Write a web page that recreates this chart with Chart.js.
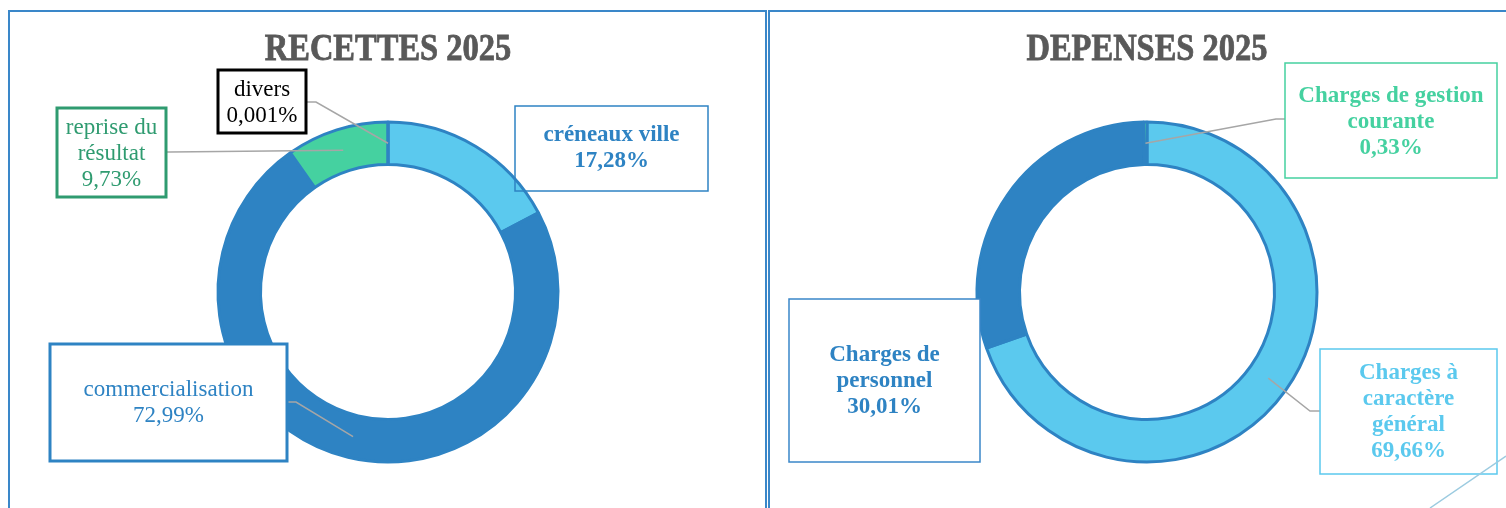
<!DOCTYPE html>
<html>
<head>
<meta charset="utf-8">
<script src="https://cdn.jsdelivr.net/npm/chart.js@4.4.0/dist/chart.umd.min.js"></script>
<style>
  body { margin: 0; background: #fff; width: 1506px; height: 508px; overflow: hidden; position: relative; }
  .panel { position: absolute; top: 10px; height: 520px; border: 2px solid #3a87c9; box-sizing: border-box; }
  #panelLeft { left: 8px; width: 759px; }
  #panelRight { left: 768px; width: 760px; }
  canvas { position: absolute; top: 0; }
  #recettesChart { left: 0; }
  #depensesChart { left: 766px; }
</style>
</head>
<body>
<div class="panel" id="panelLeft"></div>
<div class="panel" id="panelRight"></div>
<canvas id="recettesChart" width="766" height="508"></canvas>
<canvas id="depensesChart" width="740" height="508"></canvas>

<script>
/* data */
const recettesLabels = ["créneaux ville", "commercialisation", "reprise du résultat", "divers"];
const recettesValues = [17.28, 72.99, 9.73, 0.001];
const recettesColors = ["#5bc9ee", "#2e83c3", "#45d1a0", "#2e83c3"];

const depensesLabels = ["Charges à caractère général", "Charges de personnel", "Charges de gestion courante"];
const depensesValues = [69.66, 30.01, 0.33];
const depensesColors = ["#5bc9ee", "#2e83c3", "#45d1a0"];

const SERIF = '"Liberation Serif", "Times New Roman", serif';

function pct(v) {
  return String(v).replace(".", ",") + "%";
}

/* title drawn a bit condensed like the original */
const condensedTitle = {
  id: "condensedTitle",
  afterDraw(chart, args, opts) {
    const ctx = chart.ctx;
    const cx = (chart.chartArea.left + chart.chartArea.right) / 2;
    ctx.save();
    ctx.font = "bold 38px " + SERIF;
    ctx.fillStyle = "#595959";
    ctx.strokeStyle = "#595959";
    ctx.lineWidth = 0.8;
    ctx.textAlign = "center";
    ctx.textBaseline = "alphabetic";
    ctx.translate(cx, 60);
    ctx.scale(0.855, 1);
    ctx.fillText(opts.text, 0, 0);
    ctx.strokeText(opts.text, 0, 0);
    ctx.restore();
  }
};

/* boxed labels with grey leader lines */
const boxLabels = {
  id: "boxLabels",
  afterDraw(chart, args, opts) {
    const ctx = chart.ctx;
    const arcs = chart.getDatasetMeta(0).data;
    const values = chart.data.datasets[0].data;

    // leaders first
    opts.boxes.forEach(b => {
      if (!b.elbow) return;
      const p = arcs[b.index].getCenterPoint();
      ctx.save();
      ctx.strokeStyle = "#a6a6a6";
      ctx.lineWidth = 1.5;
      ctx.beginPath();
      ctx.moveTo(b.start[0], b.start[1]);
      ctx.lineTo(b.elbow[0], b.elbow[1]);
      ctx.lineTo(p.x, p.y);
      ctx.stroke();
      ctx.restore();
    });

    opts.boxes.forEach(b => {
      ctx.save();
      if (b.fill) {
        ctx.fillStyle = "#fff";
        ctx.fillRect(b.x, b.y, b.w, b.h);
      }
      ctx.strokeStyle = b.border;
      ctx.lineWidth = b.lineWidth;
      ctx.strokeRect(b.x, b.y, b.w, b.h);

      const lines = b.lines.concat([pct(values[b.index])]);
      ctx.font = (b.bold ? "bold " : "") + "23px " + SERIF;
      ctx.fillStyle = b.color;
      ctx.textAlign = "center";
      ctx.textBaseline = "middle";
      const lh = 26;
      const cy = b.y + b.h / 2 + (b.dy || 0);
      lines.forEach((t, i) => {
        ctx.fillText(t, b.x + b.w / 2, cy + (i - (lines.length - 1) / 2) * lh);
      });
      ctx.restore();
    });
  }
};

/* little decorative stroke bottom right */
const cornerDeco = {
  id: "cornerDeco",
  afterDraw(chart, args, opts) {
    if (!opts.on) return;
    const ctx = chart.ctx;
    ctx.save();
    ctx.strokeStyle = "#9ccbe0";
    ctx.lineWidth = 1.5;
    ctx.beginPath();
    ctx.moveTo(664, 508);
    ctx.lineTo(740, 456);
    ctx.stroke();
    ctx.restore();
  }
};

Chart.defaults.devicePixelRatio = 1;

function ringOptions(title, padding, boxes, deco) {
  return {
    responsive: false,
    animation: false,
    events: [],
    radius: 170,
    cutout: "75%",
    layout: { padding: padding },
    plugins: {
      legend: { display: false },
      tooltip: { enabled: false },
      condensedTitle: { text: title },
      boxLabels: { boxes: boxes },
      cornerDeco: { on: deco }
    }
  };
}

/* RECETTES */
new Chart(document.getElementById("recettesChart"), {
  type: "doughnut",
  data: {
    labels: recettesLabels,
    datasets: [{
      data: recettesValues,
      backgroundColor: recettesColors,
      borderColor: "#2e83c3",
      borderWidth: 3
    }]
  },
  options: ringOptions("RECETTES 2025", { left: 218, right: 208, top: 122, bottom: 46 }, [
    { index: 0, lines: ["créneaux ville"], x: 515, y: 106, w: 193, h: 85, border: "#2e83c3", lineWidth: 1.5, color: "#2e83c3", bold: true, fill: false },
    { index: 1, lines: ["commercialisation"], x: 50, y: 344, w: 237, h: 117, border: "#2e83c3", lineWidth: 3, color: "#2e83c3", bold: false, fill: true, start: [287, 402], elbow: [296, 402] },
    { index: 2, lines: ["reprise du", "résultat"], x: 57, y: 108, w: 109, h: 89, border: "#2f9b70", lineWidth: 3, color: "#2f9b70", bold: false, fill: true, start: [166, 152], elbow: [170, 152], dy: 1 },
    { index: 3, lines: ["divers"], x: 218, y: 70, w: 88, h: 63, border: "#000", lineWidth: 3, color: "#000", bold: false, fill: true, start: [306, 102], elbow: [316, 102], dy: 1 }
  ], false),
  plugins: [condensedTitle, boxLabels, cornerDeco]
});

/* DEPENSES */
new Chart(document.getElementById("depensesChart"), {
  type: "doughnut",
  data: {
    labels: depensesLabels,
    datasets: [{
      data: depensesValues,
      backgroundColor: depensesColors,
      borderColor: "#2e83c3",
      borderWidth: 3
    }]
  },
  options: ringOptions("DEPENSES 2025", { left: 211, right: 189, top: 122, bottom: 46 }, [
    { index: 0, lines: ["Charges à", "caractère", "général"], x: 554, y: 349, w: 177, h: 125, border: "#5bc9ee", lineWidth: 1.5, color: "#5bc9ee", bold: true, fill: true, start: [554, 411], elbow: [544, 411], dy: 1 },
    { index: 1, lines: ["Charges de", "personnel"], x: 23, y: 299, w: 191, h: 163, border: "#3a87c9", lineWidth: 1.5, color: "#2e83c3", bold: true, fill: true, dy: 1 },
    { index: 2, lines: ["Charges de gestion", "courante"], x: 519, y: 63, w: 212, h: 115, border: "#45d1a0", lineWidth: 1.5, color: "#45d1a0", bold: true, fill: true, start: [519, 119], elbow: [510, 119], dy: 2 }
  ], true),
  plugins: [condensedTitle, boxLabels, cornerDeco]
});
</script>
</body>
</html>
